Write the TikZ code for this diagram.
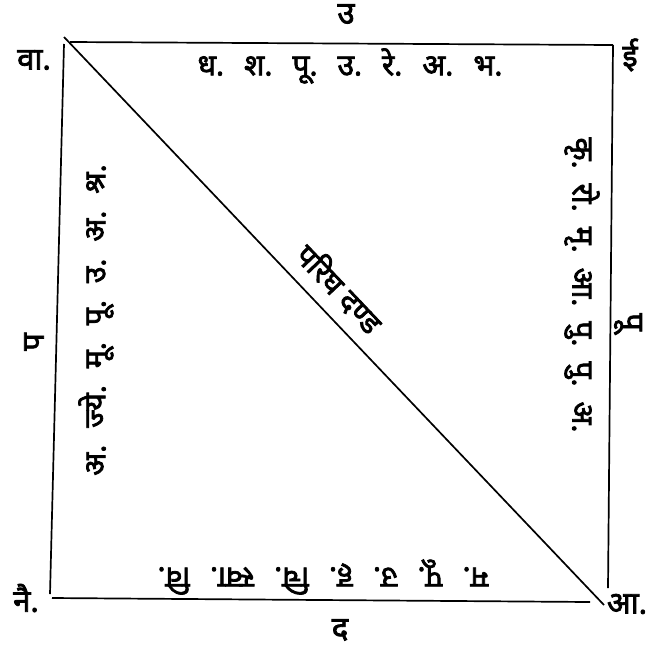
\documentclass[tikz,border=0pt]{standalone}
\usepackage{fontspec}
\newfontfamily\dev[Script=Devanagari,FakeBold=2.5]{Noto Sans}
\begin{document}
\begin{tikzpicture}[x=1pt,y=-1pt,
  edge/.style={line width=1.7pt,black},
  lbl/.style={font=\dev\fontsize{31}{34}\selectfont,inner sep=0pt},
  side/.style={font=\dev\fontsize{30}{34}\selectfont,inner sep=0pt}]
\useasboundingbox (0,0) rectangle (653,649);
% corners
\coordinate (tl) at (64,44);
\coordinate (tr) at (613,45);
\coordinate (bl) at (52,598);
\coordinate (br) at (590,602);
\coordinate (rb) at (608,588);
\coordinate (d1) at (64,37);
\coordinate (d2) at (604,605);
% sides
\draw[edge] (70,42) -- (tr);
\draw[edge] (tl) -- (50,594);
\draw[edge] (tr) -- (rb);
\draw[edge] (bl) -- (br);
\draw[edge] (d1) -- (d2);
% direction labels
\node[lbl] (north) at (346,14) {उ};
\node[lbl] (south) at (340,630) {द};
\node[lbl,rotate=90] (west) at (34,342) {प};
\node[lbl,rotate=-90] (east) at (628,322) {पू};
% corner labels
\node[lbl] (nw) at (34,60) {वा.};
\node[lbl] (ne) at (630,55) {ई};
\node[lbl] (sw) at (26,598) {नै.};
\node[lbl] (se) at (627,604) {आ.};
% nakshatra rows
\node[side] (topt) at (350,66) {ध.\hspace{20pt}श.\hspace{20pt}पू.\hspace{20pt}उ.\hspace{20pt}रे.\hspace{20pt}अ.\hspace{20pt}भ.};
\node[side,rotate=-90] (rightt) at (582,285) {कृ.\hspace{15pt}रो.\hspace{15pt}मृ.\hspace{15pt}आ.\hspace{15pt}पु.\hspace{15pt}पु.\hspace{15pt}अ.};
\node[side,rotate=180] (bott) at (323,577) {म.\hspace{20pt}पू.\hspace{20pt}उ.\hspace{20pt}ह.\hspace{20pt}चि.\hspace{20pt}स्वा.\hspace{20pt}वि.};
\node[side,rotate=90] (leftt) at (96,320) {अ.\hspace{17pt}ज्ये.\hspace{17pt}मू.\hspace{17pt}पू.\hspace{17pt}उ.\hspace{17pt}अ.\hspace{17pt}श्र.};
% diagonal label
\node[side,rotate=-46.5] (diag) at (340,288) {परिघ दण्ड};
\end{tikzpicture}
\end{document}
